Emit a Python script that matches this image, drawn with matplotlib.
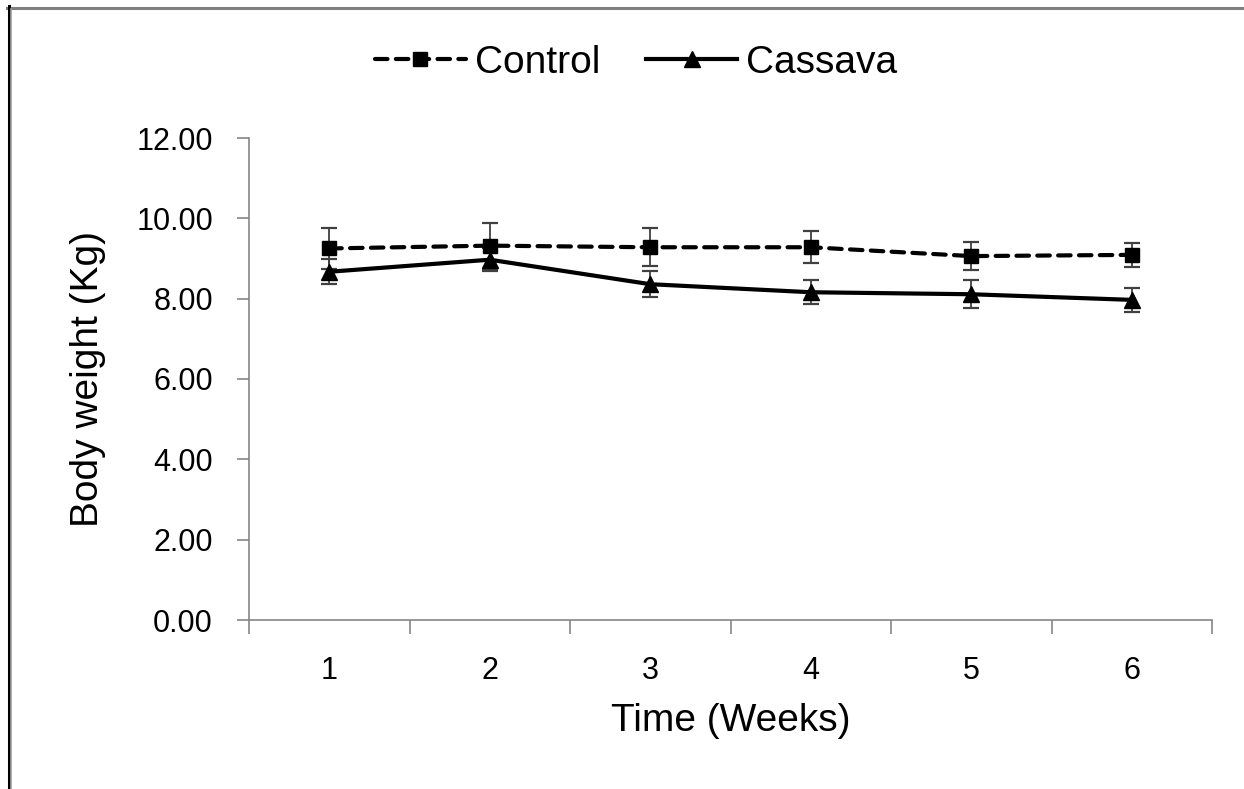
import matplotlib
matplotlib.use('Agg')
import matplotlib.pyplot as plt
from matplotlib.lines import Line2D
import numpy as np

plt.rcParams['font.family'] = ['Liberation Sans', 'DejaVu Sans']

# data
weeks = [1, 2, 3, 4, 5, 6]
control = [9.25, 9.32, 9.28, 9.28, 9.06, 9.09]
control_err = [0.52, 0.57, 0.47, 0.40, 0.35, 0.29]
cassava = [8.67, 8.97, 8.36, 8.16, 8.11, 7.97]
cassava_err = [0.31, 0.28, 0.33, 0.30, 0.35, 0.29]
yticks = [0, 2, 4, 6, 8, 10, 12]

ticksize = 22
labelsize = 28
axis_color = '#868686'
err_color = '#404040'

fig = plt.figure(figsize=(12.44, 7.89), dpi=100)
ax = fig.add_axes([249 / 1244, 1 - 620 / 789, (1212 - 249) / 1244, (620 - 138) / 789])

x = np.array(weeks)
ax.errorbar(x, control, yerr=control_err, fmt='none', ecolor=err_color,
            elinewidth=1.3, capsize=6, capthick=1.6, zorder=2)
ax.errorbar(x, cassava, yerr=cassava_err, fmt='none', ecolor=err_color,
            elinewidth=1.3, capsize=6, capthick=1.6, zorder=2)
ax.plot(x, control, color='black', lw=3, dashes=(3, 2), dash_capstyle='round',
        marker='s', markersize=10.5, label='Control', zorder=3)
ax.plot(x, cassava, color='black', lw=3, marker='^', markersize=11,
        label='Cassava', zorder=3)

ax.set_xlim(0.5, 6.5)
ax.set_ylim(0, 12)
ax.set_yticks(yticks)
ax.set_yticklabels(['{:.2f}'.format(v) for v in yticks])
ax.set_xticks(weeks)
ax.set_xticks(np.arange(0.5, 6.6, 1), minor=True)
ax.tick_params(axis='x', which='major', length=0, pad=26, labelsize=ticksize)
ax.tick_params(axis='x', which='minor', length=10, color=axis_color, width=1.2)
ax.tick_params(axis='y', which='major', length=9, color=axis_color, width=1.2,
               pad=17, labelsize=ticksize)

for s in ['top', 'right']:
    ax.spines[s].set_visible(False)
for s in ['left', 'bottom']:
    ax.spines[s].set_color(axis_color)
    ax.spines[s].set_linewidth(1.2)

ax.set_xlabel('Time (Weeks)', fontsize=labelsize, labelpad=12)
ax.set_ylabel('Body weight (Kg)', fontsize=labelsize, labelpad=22)

fig.legend(loc='center', bbox_to_anchor=(636 / 1244, 1 - 63 / 789), ncol=2,
           frameon=False, fontsize=labelsize, handlelength=2.34,
           handletextpad=0.23, columnspacing=1.18, borderaxespad=0)

# outer frame of the picture (left and top edges)
fig.add_artist(Line2D([7 / 1244, 1], [1 - 7.5 / 789, 1 - 7.5 / 789],
                      transform=fig.transFigure, color='#808080', lw=2.2))
fig.add_artist(Line2D([8.5 / 1244, 8.5 / 1244], [0, 1 - 6 / 789],
                      transform=fig.transFigure, color='black', lw=2.2))
fig.add_artist(Line2D([11 / 1244, 11 / 1244], [0, 1 - 9 / 789],
                      transform=fig.transFigure, color='#a0a0a0', lw=1.2))

fig.savefig('out.png', dpi=100)
